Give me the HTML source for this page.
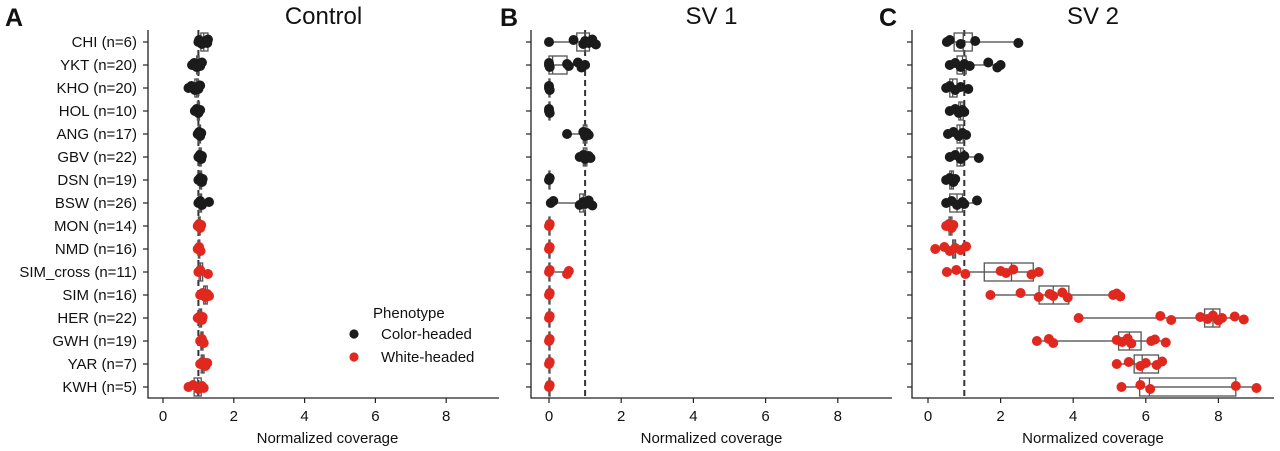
<!DOCTYPE html>
<html><head><meta charset="utf-8"><style>
body{margin:0;background:#fff;}
svg{display:block;font-family:"Liberation Sans",sans-serif;}
</style></head><body>
<svg id="chart" width="1280" height="451" viewBox="0 0 1280 451"></svg>
<script>
const groups=["CHI (n=6)","YKT (n=20)","KHO (n=20)","HOL (n=10)","ANG (n=17)","GBV (n=22)","DSN (n=19)","BSW (n=26)","MON (n=14)","NMD (n=16)","SIM_cross (n=11)","SIM (n=16)","HER (n=22)","GWH (n=19)","YAR (n=7)","KWH (n=5)"];
const phenotype=["c","c","c","c","c","c","c","c","w","w","w","w","w","w","w","w"];
const xTicks=[0,2,4,6,8];
const ctrlPoints=[[1.0,1.02,1.1,1.2,1.25,1.27],[0.82,0.88,0.95,1.0,1.05,1.1],[0.72,0.8,0.9,0.95,1.0,1.05],[0.9,0.95,1.0,1.05],[0.98,1.02,1.05,1.08],[1.0,1.04,1.08,1.1],[1.0,1.05,1.1,1.12],[1.0,1.05,1.1,1.3],[0.98,1.02,1.05,1.08],[0.98,1.02,1.06],[1.0,1.05,1.27],[1.05,1.12,1.2,1.25,1.3],[0.98,1.05,1.1,1.12],[1.05,1.1,1.15],[1.05,1.12,1.2,1.25],[0.72,0.85,1.0,1.1,1.15]];
const ctrlBox=[[1.07,1.15,1.27],[0.95,0.98,1.02],[0.9,0.95,1.0],[0.97,1.0,1.03],[1.0,1.03,1.06],[1.02,1.05,1.08],[1.03,1.06,1.09],[1.02,1.06,1.09],[1.0,1.03,1.05],[1.0,1.02,1.04],[1.02,1.06,1.12],[1.15,1.2,1.25],[1.02,1.06,1.09],[1.07,1.1,1.13],[1.08,1.12,1.16],[0.88,0.98,1.08]];
const sv1Points=[[0,0.68,0.95,1.0,1.1,1.2,1.3],[0,0,0.02,0.5,0.55,0.8,0.9,1.0],[0,0,0.02],[0,0,0.02],[0.5,0.95,1.0,1.05,1.1],[0.85,0.95,1.0,1.1,1.15],[0,0.02],[0.05,0.12,0.85,0.95,1.0,1.1,1.2],[0,0.02],[0,0.02],[0,0.02,0.5,0.55],[0,0.02],[0,0.02],[0,0.02],[0,0.02],[0,0.02]];
const sv1Box=[[0.77,1.0,1.12],[0.0,0.1,0.5],[0,0,0.01],[0,0,0.01],[0.95,1.0,1.05],[0.95,1.0,1.05],[0,0,0.01],[0.85,0.95,1.0],[0,0,0.01],[0,0,0.01],[0,0,0.01],[0,0,0.01],[0,0,0.01],[0,0,0.01],[0,0,0.01],[0,0,0.01]];
const sv2Points=[[0.52,0.6,0.9,1.3,2.49],[0.6,0.75,0.9,1.0,1.15,1.66,1.91,2.0],[0.5,0.6,0.75,0.9,1.11],[0.6,0.75,0.85,0.95,1.0],[0.55,0.7,0.85,0.95,1.05],[0.6,0.75,0.9,1.0,1.4],[0.5,0.6,0.7,0.75],[0.5,0.65,0.8,0.95,1.0,1.35],[0.5,0.58,0.65,0.7],[0.2,0.45,0.6,0.75,0.9,1.05],[0.52,0.78,1.03,2.0,2.15,2.35,2.85,3.05],[1.72,2.55,3.05,3.35,3.45,3.7,3.85,5.1,5.2,5.3],[4.15,6.4,6.7,7.5,7.7,7.85,8.0,8.1,8.45,8.7],[3.0,3.33,3.45,5.2,5.35,5.5,5.6,6.15,6.25,6.55],[5.2,5.53,5.85,6.0,6.3,6.45],[5.33,5.85,6.12,8.48,9.05]];
const sv2Box=[[0.72,0.97,1.22],[0.8,0.95,1.05],[0.6,0.68,0.8],[0.85,0.9,0.97],[0.8,0.88,0.97],[0.8,0.9,0.97],[0.6,0.65,0.7],[0.6,0.8,0.95],[0.58,0.62,0.66],[0.68,0.72,0.76],[1.55,2.3,2.9],[3.06,3.45,3.88],[7.62,7.85,8.04],[5.25,5.55,5.87],[5.68,5.9,6.35],[5.83,6.1,8.48]];

const NS="http://www.w3.org/2000/svg";
const svg=document.getElementById("chart");
function mk(tag,attrs,parent){const e=document.createElementNS(NS,tag);for(const k in attrs)e.setAttribute(k,attrs[k]);(parent||svg).appendChild(e);return e;}
const topY=30,bottomY=398,row0=42,rowStep=23;
function yScale(i){return row0+i*rowStep;}
const jit=[0,-2,2,-1,1,-2.5,2.5,0,-1.5,1.5];
const panels=[
 {name:"control",title:"Control",letter:"A",lx:5,left:148,right:499,x0:163,k:35.4,pts:ctrlPoints,box:ctrlBox,labels:true},
 {name:"sv1",title:"SV 1",letter:"B",lx:500,left:531,right:892,x0:549,k:36.1,pts:sv1Points,box:sv1Box},
 {name:"sv2",title:"SV 2",letter:"C",lx:879,left:912,right:1274,x0:928,k:36.3,pts:sv2Points,box:sv2Box}
];
panels.forEach(p=>{
 const g=mk("g",{});
 
 
 const xs=v=>p.x0+v*p.k;
 const t=mk("text",{x:(p.left+p.right)/2,y:24,"text-anchor":"middle","font-size":24,fill:"#111"},g);t.textContent=p.title;
 
 
 const L=mk("text",{x:p.lx,y:26,"font-size":25,"font-weight":"bold",fill:"#111"},g);L.textContent=p.letter;
 
 
 const ax=mk("path",{d:`M${p.left} ${topY}V${bottomY}H${p.right}`,stroke:"#222","stroke-width":1.3,fill:"none"},g);
 
 
 xTicks.forEach(v=>{
  mk("line",{x1:xs(v),x2:xs(v),y1:bottomY,y2:bottomY+5,stroke:"#222","stroke-width":1.2},g);
  const tl=mk("text",{x:xs(v),y:421,"text-anchor":"middle","font-size":15,fill:"#111"},g);tl.textContent=v;
  
  
 });
 const xt=mk("text",{x:(p.left+p.right)/2+(p.labels?4:0),y:443,"text-anchor":"middle","font-size":15,fill:"#111"},g);xt.textContent="Normalized coverage";
 
 
 groups.forEach((gname,i)=>{
  const y=yScale(i);
  mk("line",{x1:p.left-5,x2:p.left,y1:y,y2:y,stroke:"#222","stroke-width":1.2},g);
  if(p.labels){const tl=mk("text",{x:137,y:y+5,"text-anchor":"end","font-size":15,fill:"#111"},g);tl.textContent=gname;
   
   }
 });
 const dl=mk("line",{x1:xs(1),x2:xs(1),y1:topY,y2:bottomY,stroke:"#333","stroke-width":2,"stroke-dasharray":"6,4"},g);
 
 
 groups.forEach((gname,i)=>{
  const y=yScale(i),b=p.box[i],pts=p.pts[i];
  const mn=Math.min(...pts),mx=Math.max(...pts);
  const wl=mk("line",{x1:xs(mn),x2:xs(mx),y1:y,y2:y,stroke:"#444","stroke-width":1.3},g);
  
  
  const r=mk("rect",{x:xs(b[0]),y:y-9,width:Math.max(1,xs(b[2])-xs(b[0])),height:18,fill:"none",stroke:"#555","stroke-width":1.3},g);
  
  
  const md=mk("line",{x1:xs(b[1]),x2:xs(b[1]),y1:y-9,y2:y+9,stroke:"#555","stroke-width":1.3},g);
  
  
  const col=phenotype[i]==="c"?"#1b1b1b":"#e0281e";
  pts.forEach((v,j)=>{
   const c=mk("circle",{cx:xs(v),cy:y+jit[j%jit.length],r:5,fill:col},g);
   
   
  });
 });
});
const lg=mk("g",{});


const lt=mk("text",{x:373,y:318,"font-size":15,fill:"#111"},lg);lt.textContent="Phenotype";


[["Color-headed","#1b1b1b",334],["White-headed","#e0281e",357]].forEach(e=>{
 const c=mk("circle",{cx:354,cy:e[2],r:4.6,fill:e[1]},lg);
 
 
 const t=mk("text",{x:381,y:e[2]+5,"font-size":15,fill:"#111"},lg);t.textContent=e[0];
 
 
});
</script>
</body></html>
